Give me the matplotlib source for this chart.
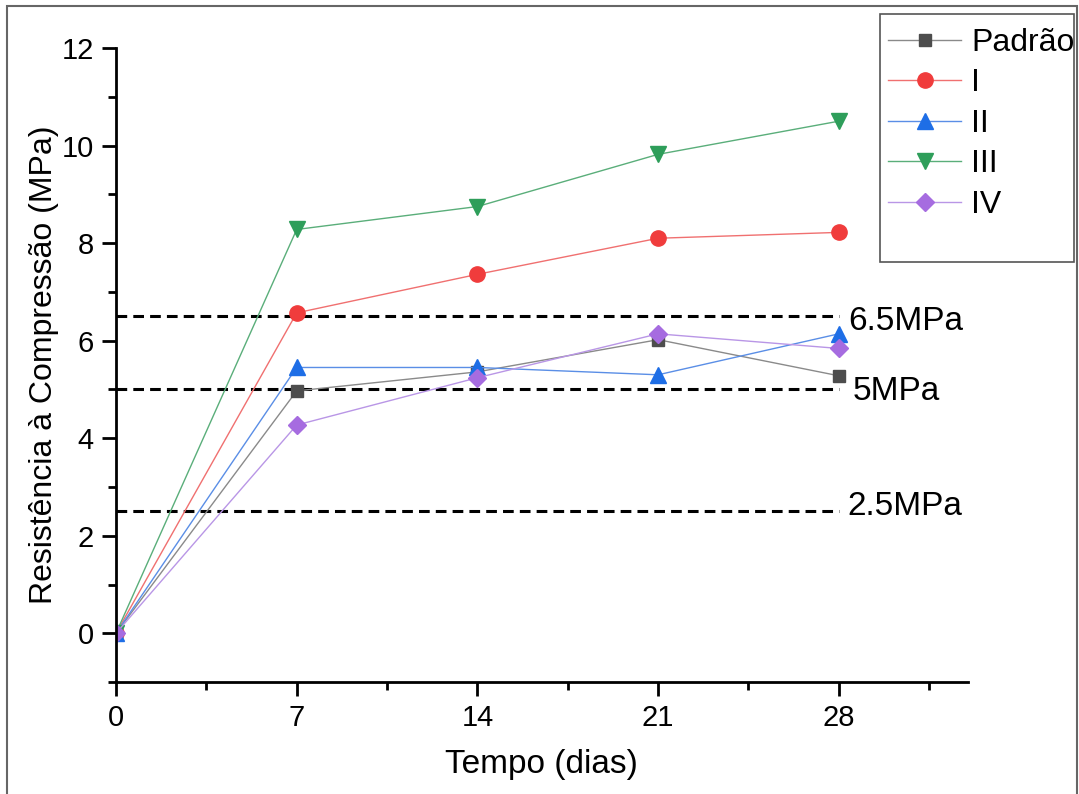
import matplotlib
matplotlib.use('Agg')
import matplotlib.pyplot as plt
from matplotlib.patches import Rectangle
from matplotlib.ticker import MultipleLocator

plt.rcParams['font.family'] = ['Liberation Sans', 'DejaVu Sans']

# Data
dias = [0, 7, 14, 21, 28]
padrao = [0, 4.97, 5.36, 6.02, 5.28]
serie_i = [0, 6.57, 7.36, 8.10, 8.22]
serie_ii = [0, 5.45, 5.45, 5.30, 6.14]
serie_iii = [0, 8.28, 8.75, 9.82, 10.50]
serie_iv = [0, 4.27, 5.24, 6.14, 5.84]

nomes = ['Padrão', 'I', 'II', 'III', 'IV']
limites = [6.5, 5, 2.5]
rotulos_limites = ['6.5MPa', '5MPa', '2.5MPa']

fig = plt.figure(figsize=(10.79, 7.94), dpi=100)
ax = fig.add_axes([0.1075, 0.141, 0.7895, 0.7985])

# outer frame around the picture
fig.patches.append(Rectangle((0.0065, -0.01), 0.9915, 1.0025, transform=fig.transFigure,
                             fill=False, edgecolor='#666666', linewidth=1.5))

estilos = [
    ('#4d4d4d', '#8a8a8a', 's', 9),
    ('#f03c3c', '#f07070', 'o', 11),
    ('#1e6ee6', '#5a8ee6', '^', 11),
    ('#2e9e5a', '#5aae7a', 'v', 11),
    ('#a66ce0', '#b996e6', 'D', 9),
]
series = [padrao, serie_i, serie_ii, serie_iii, serie_iv]

for ys, nome, (mc, lc, m, ms) in zip(series, nomes, estilos):
    ax.plot(dias, ys, color=lc, linewidth=1.0, marker=m, markersize=ms,
            markerfacecolor=mc, markeredgecolor=mc, label=nome)

for lim, rot, dy, dx in zip(limites, rotulos_limites, [-0.1, -0.05, 0.1], [28.35, 28.55, 28.35]):
    ax.plot([dias[0], dias[-1]], [lim, lim], color='black', linestyle=(0, (3.5, 2)),
            linewidth=2.2, zorder=1)
    ax.text(dx, lim + dy, rot, fontsize=24, va='center', ha='left')

ax.set_xlim(0, 33)
ax.set_ylim(-1, 12)
ax.xaxis.set_major_locator(MultipleLocator(7))
ax.xaxis.set_minor_locator(MultipleLocator(3.5))
ax.yaxis.set_major_locator(MultipleLocator(2))
ax.yaxis.set_minor_locator(MultipleLocator(1))

ax.spines['top'].set_visible(False)
ax.spines['right'].set_visible(False)
for s in ['left', 'bottom']:
    ax.spines[s].set_linewidth(2.0)
ax.tick_params(which='major', direction='out', length=10, width=2, labelsize=21, pad=6)
ax.tick_params(which='minor', direction='out', length=6, width=2)

ax.set_xlabel('Tempo (dias)', fontsize=24, labelpad=12)
ax.set_ylabel('Resistência à Compressão (MPa)', fontsize=23, labelpad=2)

leg = fig.legend(loc='upper left', bbox_to_anchor=(0.814, 0.977), fontsize=23,
                 frameon=False, handlelength=2.3, handletextpad=0.3,
                 borderpad=0.3, labelspacing=0.33, borderaxespad=0)
# legend frame, taller than its entries
fig.patches.append(Rectangle((880 / 1079, 1 - 262 / 794), 194 / 1079, 248 / 794,
                             transform=fig.transFigure, fill=False,
                             edgecolor='#555555', linewidth=1.2))

fig.savefig('out.png', dpi=100)
